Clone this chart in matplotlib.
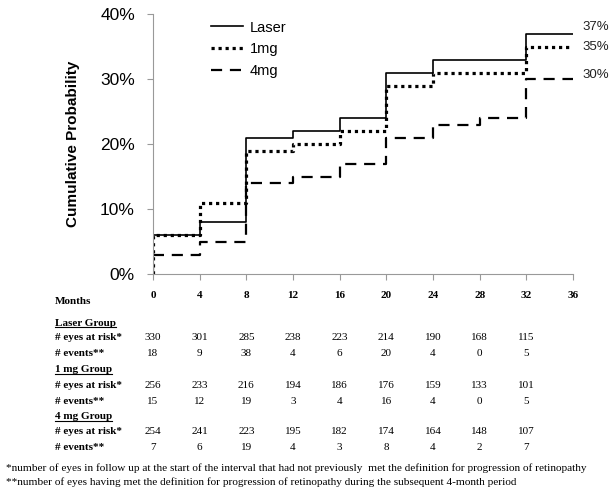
import numpy as np
import matplotlib
matplotlib.use("Agg")
import matplotlib.pyplot as plt
import matplotlib.transforms as mtransforms

months = [0, 4, 8, 12, 16, 20, 24, 28, 32, 36]
laser = [6, 8, 21, 22, 24, 31, 33, 33, 37]
mg1 = [6, 11, 19, 20, 22, 29, 31, 31, 35]
mg4 = [3, 5, 14, 15, 17, 21, 23, 24, 30]

laser_risk = [330, 301, 285, 238, 223, 214, 190, 168, 115]
laser_events = [18, 9, 38, 4, 6, 20, 4, 0, 5]
mg1_risk = [256, 233, 216, 194, 186, 176, 159, 133, 101]
mg1_events = [15, 12, 19, 3, 4, 16, 4, 0, 5]
mg4_risk = [254, 241, 223, 195, 182, 174, 164, 148, 107]
mg4_events = [7, 6, 19, 4, 3, 8, 4, 2, 7]

W, H = 614, 493
fig = plt.figure(figsize=(W / 100, H / 100), dpi=100)
ax = fig.add_axes([153 / W, 1 - 274 / H, (573 - 153) / W, (274 - 14) / H])

sans = ['Liberation Sans', 'DejaVu Sans']
serif = ['Liberation Serif', 'DejaVu Serif']


def step_xy(vals):
    x = [0] + months
    y = [0] + vals + [vals[-1]]
    return np.array(x), np.array(y) / 100.0


series = [
    ('Laser', laser, dict(linestyle='-', linewidth=1.2), 5),
    ('1mg', mg1, dict(linestyle=(0, (1, 1.2)), linewidth=2.3), 0),
    ('4mg', mg4, dict(linestyle=(0, (5, 3.5)), linewidth=1.6), 3),
]
for name, vals, st, dy in series:
    x, y = step_xy(vals)
    ax.step(x, y, where='post', color='black', label=name, **st)
    ax.annotate('%d%%' % vals[-1], (36, vals[-1] / 100.0), xytext=(7, dy),
                textcoords='offset points', fontsize=9.5, family=sans,
                va='center', ha='left', color='#222222', annotation_clip=False)

ax.set_xlim(0, 36)
ax.set_ylim(0, 0.40)
ax.set_xticks(months)
ax.set_xticklabels([])
ax.set_yticks([0, 0.1, 0.2, 0.3, 0.4])
ax.set_yticklabels(['0%', '10%', '20%', '30%', '40%'], family=sans, fontsize=12.5)
ax.tick_params(axis='both', color='#999999', length=4, width=0.8)
ax.tick_params(axis='y', pad=9)
for s in ['top', 'right']:
    ax.spines[s].set_visible(False)
for s in ['left', 'bottom']:
    ax.spines[s].set_color('#999999')
    ax.spines[s].set_linewidth(0.8)
ax.set_ylabel('Cumulative Probability', family=sans, fontsize=11, fontweight='bold')
ax.yaxis.set_label_coords(-0.174, 0.5)

leg = ax.legend(loc='upper left', bbox_to_anchor=(0.137, 0.975), frameon=False,
                prop={'family': sans, 'size': 10.5}, handlelength=2.2,
                labelspacing=0.53, handletextpad=0.5, borderpad=0,
                borderaxespad=0)

# table under the chart: columns follow the month positions of the x axis
colx = mtransforms.blended_transform_factory(ax.transData, fig.transFigure)


def ftext(x, y, s, **kw):
    return fig.text(x / W, 1 - y / H, s, va='center', family=serif, **kw)


def ctext(m, y, s, **kw):
    ax.text(m, 1 - y / H, s, transform=colx, va='center', ha='center',
            family=serif, clip_on=False, **kw)


ftext(55, 301, 'Months', fontsize=8, fontweight='bold')
for m in months:
    ctext(m, 295, str(m), fontsize=8, fontweight='bold')

groups = [
    ('Laser Group', laser_risk, laser_events, 323),
    ('1 mg Group', mg1_risk, mg1_events, 370),
    ('4 mg Group', mg4_risk, mg4_events, 416.5),
]
fig.canvas.draw()
for title, risk, ev, y0 in groups:
    t = ftext(55, y0, title, fontsize=8, fontweight='bold')
    fig.canvas.draw()
    bb = t.get_window_extent()
    fig.add_artist(plt.Line2D([bb.x0 / W, bb.x1 / W], [(bb.y0 + 0.5) / H] * 2,
                              color='black', linewidth=0.8))
    ftext(55, y0 + 15, '# eyes at risk*', fontsize=8, fontweight='bold')
    ftext(55, y0 + 31, '# events**', fontsize=8, fontweight='bold')
    for m, r, e in zip(months, risk, ev):
        ctext(m, y0 + 15, str(r), fontsize=8)
        ctext(m, y0 + 31, str(e), fontsize=8)

ftext(6, 468.5, '*number of eyes in follow up at the start of the interval that had not previously  met the definition for progression of retinopathy', fontsize=8.1)
ftext(6, 482.5, '**number of eyes having met the definition for progression of retinopathy during the subsequent 4-month period', fontsize=8.1)

fig.savefig('out.png', dpi=100)
